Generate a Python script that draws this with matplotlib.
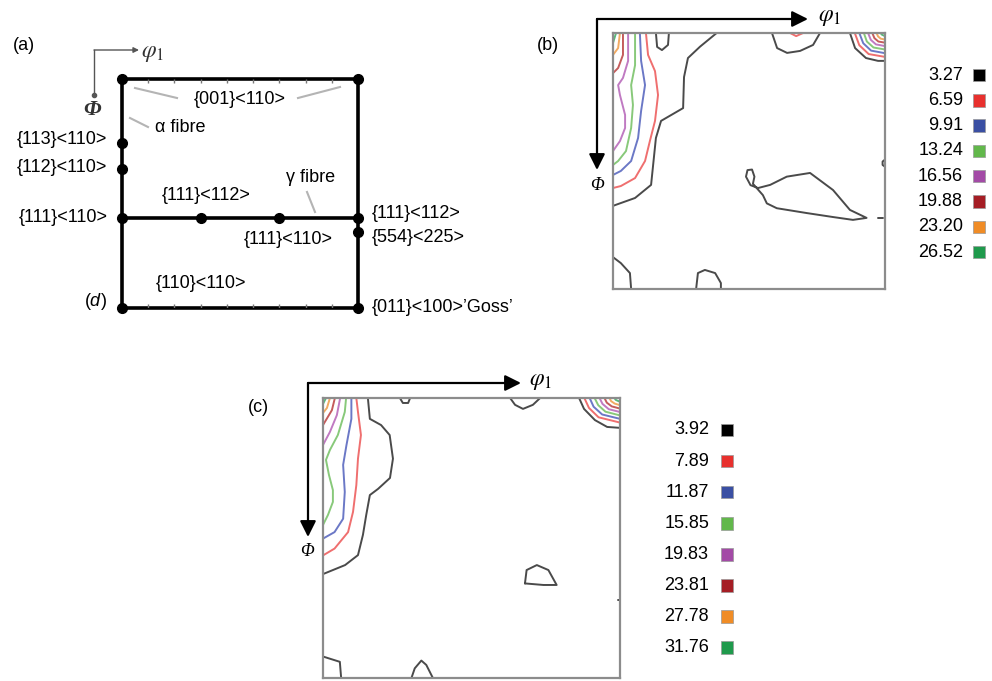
import matplotlib
matplotlib.use("Agg")
import matplotlib.pyplot as plt

plt.rcParams["font.family"] = ["Liberation Sans", "DejaVu Sans"]
plt.rcParams["mathtext.fontset"] = "custom"
plt.rcParams["mathtext.rm"] = "Liberation Sans"
plt.rcParams["mathtext.it"] = "Liberation Sans:italic"

W, H = 992, 681

# (a) ideal orientations in the phi2 = 45 deg section (phi1, Phi in degrees)
ideal_phi1 = [0, 90, 0, 0, 0, 30, 60, 90, 90, 0, 90]
ideal_Phi = [0, 0, 25.2, 35.3, 54.7, 54.7, 54.7, 54.7, 60.0, 90, 90]
gamma_Phi = 54.7

# legend levels
levels_b = ["3.27", "6.59", "9.91", "13.24", "16.56", "19.88", "23.20", "26.52"]
levels_c = ["3.92", "7.89", "11.87", "15.85", "19.83", "23.81", "27.78", "31.76"]
level_colors = ["#000000", "#e8302d", "#3a4fa3", "#62b84b",
                "#a34aa6", "#a51d24", "#f08c26", "#1f9a4c"]
line_colors = ["#4a4a4a", "#ef6f6f", "#6b78c6", "#88c97a",
               "#c07ac2", "#c45c5c", "#f2aa62", "#5cb87a"]

# contour lines traced from the ODF sections: (level, phi1, Phi)
b_contours = [
    (0, [34.3, 28.8, 24.8, 23.5, 23.2, 15.9, 14.2, 12.6, 7.3, 0.7, 0],
        [0, 4.8, 8.8, 15.5, 26.4, 30.9, 36.9, 53.4, 58.0, 60.5, 60.8]),
    (0, [14.2, 14.6, 16.2, 18.2, 18.5], [0, 4.9, 6.0, 4.2, 0]),
    (1, [10.9, 11.6, 13.9, 14.9, 13.9, 12.2, 10.6, 7.3, 2.6, 0],
        [0, 7.7, 13.4, 21.8, 30.9, 38.0, 45.0, 51.0, 53.8, 54.5]),
    (2, [8.9, 9.3, 10.6, 9.3, 8.3, 6.0, 2.6, 0],
        [0, 9.8, 18.3, 27.4, 36.9, 45.0, 48.5, 49.9]),
    (3, [7.3, 7.3, 6.0, 6.6, 6.0, 4.3, 1.7, 0],
        [0, 11.3, 18.3, 25.3, 33.4, 41.5, 45.0, 46.4]),
    (4, [5.0, 5.0, 3.3, 1.7, 2.3, 4.0, 4.0, 2.3, 0],
        [0, 9.8, 15.8, 18.3, 21.8, 28.8, 33.4, 38.0, 41.5]),
    (5, [3.3, 3.3, 1.7, 0], [0, 7.7, 12.3, 14.1]),
    (6, [2.3, 1.7, 0], [0, 5.3, 7.7]),
    (7, [1.0, 0], [0, 3.5]),
    (0, [52.6, 54.3, 57.6, 61.9, 66.2, 68.5], [0, 5.3, 7.0, 6.3, 4.2, 0]),
    (1, [58.6, 60.6, 62.9], [0, 1.1, 0]),
    (0, [78.4, 80.1, 83.7, 87.7, 90], [0, 5.3, 8.8, 9.8, 9.8]),
    (1, [80.0, 81.5, 84.6, 90], [0, 4.3, 7.4, 8.4]),
    (2, [81.5, 82.8, 85.4, 90], [0, 3.6, 6.2, 7.1]),
    (3, [83.0, 84.0, 86.2, 90], [0, 3.0, 5.1, 5.8]),
    (4, [84.4, 85.3, 87.0, 90], [0, 2.4, 4.0, 4.6]),
    (5, [85.8, 86.5, 87.8, 90], [0, 1.8, 3.0, 3.4]),
    (6, [87.2, 87.7, 88.6, 90], [0, 1.2, 2.0, 2.3]),
    (7, [88.5, 89.0, 90], [0, 0.6, 1.1]),
    (0, [48.0, 45.5, 44.0, 44.5, 46.0, 46.8, 46.3, 49.6, 50.9, 54.2, 64.1,
         72.8, 79.4, 83.9, 78.4, 72.8, 65.2, 57.5, 52.0, 48.0],
        [54.5, 53.5, 50.5, 48.2, 48.0, 50.5, 53.0, 57.0, 59.9, 61.6, 63.3,
         64.7, 65.7, 65.0, 62.2, 55.2, 49.2, 50.5, 53.4, 54.5]),
    (0, [90, 89.2, 89.2, 90], [44.5, 45.2, 46.4, 47.0]),
    (0, [87.8, 89.4], [65.1, 65.1]),
    (0, [0, 2.6, 5.6, 6.0], [78.8, 80.9, 84.4, 90]),
    (0, [27.5, 28.1, 30.4, 33.8, 35.7, 35.7], [90, 84.4, 83.3, 84.4, 87.9, 90]),
]

c_contours = [
    (0, [13.6, 14.2, 17.6, 20.2, 21.2, 20.3, 16.7, 14.2, 13.1, 12.1, 10.6, 6.7, 0],
        [0, 6.7, 8.7, 11.9, 19.5, 25.7, 29.2, 31.2, 37.6, 44.0, 50.5, 53.7, 56.6]),
    (1, [10.1, 10.6, 11.5, 10.6, 10.1, 9.1, 7.6, 3.5, 0],
        [0, 4.5, 11.9, 19.5, 28.0, 36.6, 43.1, 48.4, 50.6]),
    (2, [8.6, 8.6, 7.1, 6.1, 6.6, 6.1, 3.5, 0],
        [0, 6.7, 15.2, 21.5, 30.2, 38.8, 43.1, 45.2]),
    (3, [7.0, 6.6, 4.5, 2.1, 0.9, 1.8, 3.0, 3.0, 1.5, 0],
        [0, 4.5, 11.9, 16.7, 19.9, 24.7, 29.6, 33.4, 37.6, 40.8]),
    (4, [5.2, 4.2, 2.1, 0], [0, 5.5, 10.9, 15.1]),
    (5, [3.6, 2.7, 0], [0, 3.9, 8.7]),
    (6, [2.1, 1.2, 0], [0, 3.2, 4.8]),
    (7, [0.9, 0], [0, 1.9]),
    (0, [23.3, 24.2, 25.8, 26.4], [0, 1.6, 1.6, 0]),
    (0, [56.7, 58.2, 60.6, 63.6, 65.8], [0, 2.2, 3.5, 2.2, 0]),
    (0, [77.6, 79.1, 82.4, 86.1, 90], [0, 3.5, 7.1, 9.3, 9.6]),
    (1, [79.2, 80.6, 83.5, 90], [0, 3.2, 6.2, 7.9]),
    (2, [80.8, 82.0, 84.6, 90], [0, 2.8, 5.3, 6.7]),
    (3, [82.3, 83.4, 85.6, 90], [0, 2.3, 4.4, 5.6]),
    (4, [83.8, 84.7, 86.6, 90], [0, 1.9, 3.6, 4.5]),
    (5, [85.3, 86.0, 87.5, 90], [0, 1.5, 2.7, 3.4]),
    (6, [86.8, 87.3, 88.4, 90], [0, 1.0, 1.8, 2.3]),
    (7, [88.3, 88.7, 89.3, 90], [0, 0.6, 0.9, 1.2]),
    (0, [61.2, 61.7, 64.8, 68.3, 70.8, 66.8, 61.2],
        [59.6, 55.3, 53.7, 55.3, 60.1, 60.1, 59.6]),
    (0, [89.3, 89.6], [64.9, 64.9]),
    (0, [0, 5.1, 5.5], [83.1, 84.8, 90]),
    (0, [26.8, 27.8, 29.8, 31.3, 33.3], [90, 86.9, 84.4, 85.8, 90]),
]

fig = plt.figure(figsize=(W / 100, H / 100), dpi=100)


def box_axes(x0, y0, x1, y1):
    return fig.add_axes([x0 / W, 1 - y1 / H, (x1 - x0) / W, (y1 - y0) / H])


# ---------------- panel (a): schematic
ax_a = box_axes(122, 79, 358, 308)
ax_a.set_xlim(0, 90)
ax_a.set_ylim(90, 0)
ax_a.axis("off")
ax_a.plot([0, 90, 90, 0, 0], [0, 0, 90, 90, 0], color="k", lw=2.6,
          clip_on=False, solid_joinstyle="miter")
ax_a.plot([0, 90], [gamma_Phi, gamma_Phi], color="k", lw=2.6, clip_on=False)
ax_a.vlines(range(10, 90, 10), 0, 1.5, color="#777777", lw=1)
ax_a.vlines(range(10, 90, 10), 88.5, 90, color="#777777", lw=1)
ax_a.plot(ideal_phi1, ideal_Phi, "o", color="k", ms=7, clip_on=False)


# ---------------- panels (b) and (c): ODF sections
def section(ax, contours):
    for lev, p1, P in contours:
        ax.plot(p1, P, color=line_colors[lev], lw=1.4, solid_capstyle="round",
                solid_joinstyle="round")
    ax.set_xlim(0, 90)
    ax.set_ylim(90, 0)
    ax.set_xticks([])
    ax.set_yticks([])
    for sp in ax.spines.values():
        sp.set_color("#8c8c8c")
        sp.set_linewidth(1.6)


ax_b = box_axes(613, 33, 885, 289)
section(ax_b, b_contours)
ax_c = box_axes(323, 398, 620, 678)
section(ax_c, c_contours)

# ---------------- overlay for labels, arrows and legends (pixel coords)
ov = fig.add_axes([0, 0, 1, 1], zorder=5)
ov.set_xlim(0, W)
ov.set_ylim(H, 0)
ov.axis("off")
ov.patch.set_visible(False)

fs = 13
labels_a = [
    ("(a)", 13, 45, "left"),
    ("{001}<110>", 240, 100, "center"),
    ("\u03b1 fibre", 155, 127, "left"),
    ("{113}<110>", 107, 140, "right"),
    ("{112}<110>", 107, 167, "right"),
    ("{111}<110>", 108, 217, "right"),
    ("{111}<112>", 206, 195, "center"),
    ("\u03b3 fibre", 286, 177, "left"),
    ("{111}<112>", 372, 213, "left"),
    ("{554}<225>", 372, 237, "left"),
    ("{111}<110>", 288, 240, "center"),
    ("{110}<110>", 201, 283, "center"),
    ("($d$)", 95, 302, "center"),
    ("{011}<100>\u2019Goss\u2019", 372, 307, "left"),
    ("(b)", 548, 45, "center"),
    ("(c)", 258, 407, "center"),
]
for txt, x, y, ha in labels_a:
    ov.text(x, y, txt, fontsize=fs, ha=ha, va="center")

# pointer lines in (a)
for (x0, y0), (x1, y1) in [((135, 88), (177, 98)), ((298, 98), (340, 87)),
                           ((130, 118), (148, 127)), ((307, 192), (315, 212))]:
    ov.plot([x0, x1], [y0, y1], color="#b4b4b4", lw=1.5)

# small axis sketch in (a)
ov.plot([94, 94], [95, 50], color="#555555", lw=1)
ov.plot([94], [95], "o", color="#555555", ms=3)
ov.annotate("", xy=(139, 50), xytext=(94, 50),
            arrowprops=dict(arrowstyle="-|>", color="#555555", lw=1,
                            mutation_scale=8, shrinkA=0, shrinkB=0))
ov.text(153, 53, r"$\varphi_1$", fontsize=17, ha="center", va="center",
        math_fontfamily="stix", color="#333333")
ov.text(92, 110, "\u03a6", fontsize=16, ha="center", va="center",
        family="Liberation Serif", style="italic", fontweight="bold", color="#333333")


def euler_arrows(cx, cy, x_tip, y_tip, lab1, labp):
    for tip in [(x_tip, cy), (cx, y_tip)]:
        ov.annotate("", xy=tip, xytext=(cx, cy),
                    arrowprops=dict(arrowstyle="-|>", color="k", lw=1.6,
                                    mutation_scale=24, shrinkA=0, shrinkB=0))
    ov.text(lab1[0], lab1[1], r"$\varphi_1$", fontsize=17, ha="center",
            va="center", math_fontfamily="stix")
    ov.text(labp[0], labp[1], "\u03a6", fontsize=13, ha="center", va="center",
            family="Liberation Serif", style="italic")


euler_arrows(597, 19, 808, 170, (830, 17), (597, 186))
euler_arrows(308, 383, 521, 537, (541, 381), (307, 551))


def legend(levels, x_text, x_box, ys):
    for lab, y in zip(levels, ys):
        ov.text(x_text, y, lab, fontsize=fs, ha="right", va="center")
    ov.scatter([x_box] * len(levels), ys, marker="s", s=80, c=level_colors,
               edgecolors="#999999", linewidths=0.5)


legend(levels_b, 963, 979, [75 + 25.3 * i for i in range(8)])
legend(levels_c, 709, 727, [430 + 31.1 * i for i in range(8)])

fig.savefig("out.png", dpi=100)
